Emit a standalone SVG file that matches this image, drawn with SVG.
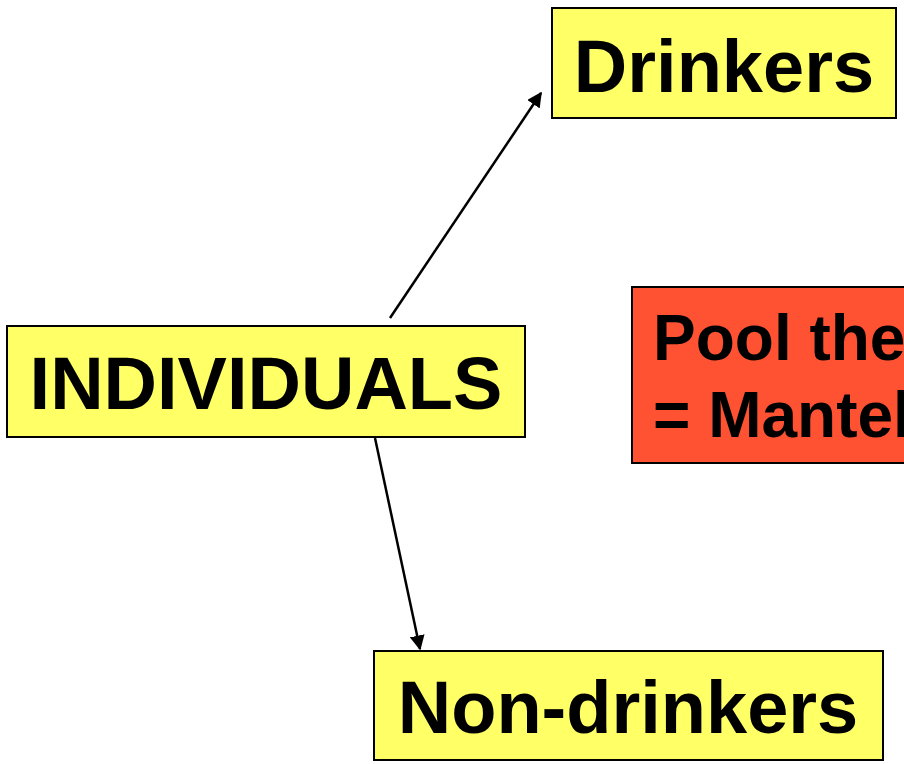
<svg xmlns="http://www.w3.org/2000/svg" width="904" height="764" viewBox="0 0 904 764">
  <style>
    .box { fill: #FFFF66; stroke: #000; stroke-width: 2; }
    .alert { fill: #FF5233; stroke: #000; stroke-width: 2; }
    .label { font-family: "Liberation Sans", Arial, sans-serif; font-weight: bold; fill: #000; }
    .big { font-size: 74px; text-anchor: middle; }
    .mid { font-size: 64px; }
    .conn { stroke: #000; stroke-width: 2.5; fill: none; marker-end: url(#arrow); }
  </style>
  <defs>
    <marker id="arrow" viewBox="0 0 10 10" refX="9" refY="5" markerWidth="6" markerHeight="6" markerUnits="strokeWidth" orient="auto">
      <path d="M0,0 L10,5 L0,10 z" fill="#000"/>
    </marker>
  </defs>

  <rect width="904" height="764" fill="#fff"/>

  <g id="connectors">
    <line class="conn" x1="390" y1="318" x2="541" y2="93"/>
    <line class="conn" x1="375" y1="438" x2="420" y2="649"/>
  </g>

  <g id="drinkers">
    <rect class="box" x="552" y="8" width="344" height="110"/>
    <text class="label big" x="724" y="92">Drinkers</text>
  </g>

  <g id="individuals">
    <rect class="box" x="7" y="326" width="518" height="111"/>
    <text class="label big" x="266" y="409">INDIVIDUALS</text>
  </g>

  <g id="non-drinkers">
    <rect class="box" x="374" y="651" width="509" height="109"/>
    <text class="label big" x="628" y="733">Non-drinkers</text>
  </g>

  <g id="pool">
    <rect class="alert" x="632" y="287" width="290" height="176"/>
    <text class="label mid" x="653" y="360">Pool the</text>
    <text class="label mid" x="653" y="437">= Mantel</text>
  </g>
</svg>
